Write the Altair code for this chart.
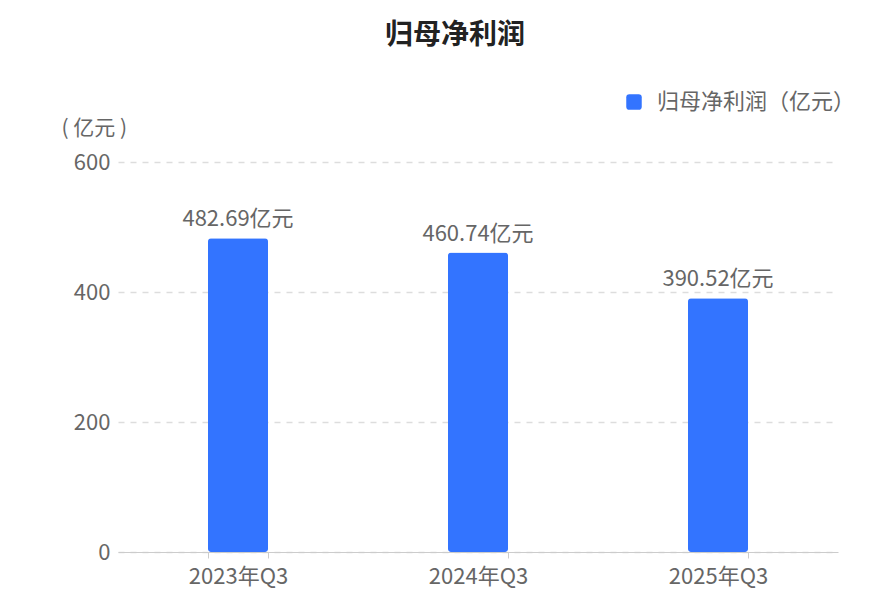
import altair as alt
import pandas as pd

categories = ["2023年Q3", "2024年Q3", "2025年Q3"]
values = [482.69, 460.74, 390.52]
labels = ["482.69亿元", "460.74亿元", "390.52亿元"]
series_name = "归母净利润（亿元）"

df = pd.DataFrame({"q": categories, "v": values, "lab": labels, "s": [series_name] * 3})

FONT = "Noto Sans CJK SC"
BLUE = "#3374FF"
GRAY = "#666666"

rounded = "M-0.6,-1 H0.6 Q1,-1 1,-0.6 V0.6 Q1,1 0.6,1 H-0.6 Q-1,1 -1,0.6 V-0.6 Q-1,-1 -0.6,-1 Z"

base = alt.Chart(df).encode(
    x=alt.X("q:N", sort=categories, title=None,
            scale=alt.Scale(paddingInner=0.75, paddingOuter=0.375),
            axis=alt.Axis(labelAngle=0, labelFont=FONT, labelFontSize=22, labelColor=GRAY,
                          labelPadding=8, domainColor="#cccccc", tickColor="#cccccc",
                          tickBand="extent", tickSize=6, grid=False)),
    y=alt.Y("v:Q", title="( 亿元 )",
            scale=alt.Scale(domain=[0, 600]),
            axis=alt.Axis(values=[0, 200, 400, 600], labelFont=FONT, labelFontSize=22,
                          labelColor=GRAY, labelPadding=8, ticks=False, domain=False,
                          gridColor="#dddddd", gridDash=[6, 6], gridWidth=1.3,
                          titleAngle=0, titleFont=FONT, titleFontSize=21,
                          titleFontWeight="normal", titleColor=GRAY,
                          titleAlign="left", titleBaseline="middle",
                          titleX=-57, titleY=-34)),
)

bars = base.mark_bar(cornerRadius=3, size=60).encode(
    color=alt.Color("s:N", scale=alt.Scale(range=[BLUE]), title=None,
                    legend=alt.Legend(orient="none", legendX=505, legendY=-71,
                                      symbolType=rounded, symbolSize=240,
                                      symbolStrokeWidth=0, symbolOpacity=1,
                                      labelFont=FONT, labelFontSize=22,
                                      labelColor=GRAY, labelLimit=400, labelOffset=12))
)

text = base.mark_text(dy=-19, font=FONT, fontSize=22, color=GRAY).encode(text="lab:N")

chart = alt.layer(bars, text).properties(
    width=720, height=390,
    padding={"left": 110, "top": 154, "right": 44, "bottom": 45},
    autosize=alt.AutoSizeParams(type="none"),
    title=alt.Title("归母净利润", font=FONT, fontSize=28, fontWeight="bold",
                    color="#222222", anchor="middle", dx=-23, offset=41),
).configure_view(stroke=None)

chart.save("out.html", embed_options={"renderer": "svg", "actions": False})
